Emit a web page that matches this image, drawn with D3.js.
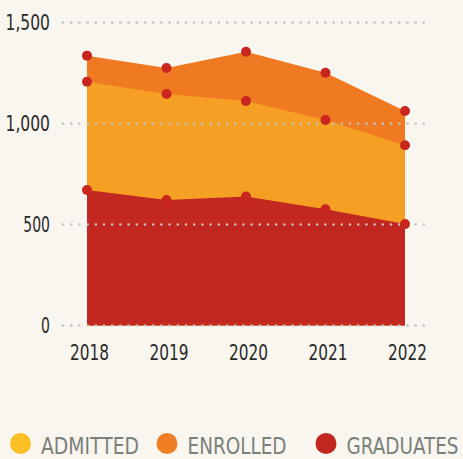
<!DOCTYPE html>
<html>
<head>
<meta charset="utf-8">
<script src="https://cdn.jsdelivr.net/npm/d3@7"></script>
<style>
  html, body { margin: 0; padding: 0; background: #F8F6EF; }
  svg { display: block; }
  text { font-family: "Liberation Sans Narrow", "DejaVu Sans Condensed", "Roboto", sans-serif; }
</style>
</head>
<body>
<svg id="chart" width="463" height="459"></svg>
<script>
// ---- data ----
const years = ["2018", "2019", "2020", "2021", "2022"];
const admitted = [1336, 1275, 1355, 1251, 1062];
const enrolled = [1207, 1146, 1111, 1017, 892];
const graduates = [671, 621, 638, 575, 502];
const yTicks = [0, 500, 1000, 1500];
const seriesNames = ["ADMITTED", "ENROLLED", "GRADUATES"];

// ---- styles ----
const areaColors = ["#EF7A21", "#F59F24", "#C2281F"];
const legendColors = ["#FBBF26", "#F07E24", "#C2281F"];
const dotColor = "#C8261F";
const FONT = "\"Liberation Sans Narrow\", \"DejaVu Sans Condensed\", sans-serif";

const svg = d3.select("#chart");
const x = d3.scalePoint().domain(years).range([87, 405]);
const y = d3.scaleLinear().domain([0, 1500]).range([325.5, 22.5]);

const series = [admitted, enrolled, graduates];

// areas
series.forEach((vals, i) => {
  const area = d3.area()
    .x((d, j) => x(years[j]))
    .y0(y(0))
    .y1(d => y(d));
  svg.append("path")
    .datum(vals)
    .attr("d", area)
    .attr("fill", areaColors[i]);
});

// grid (dotted)
const grid = svg.append("g");
grid.selectAll("line").data(yTicks).join("line")
  .attr("x1", 63).attr("x2", 430)
  .attr("y1", d => y(d)).attr("y2", d => y(d))
  .attr("stroke", "#C3C3C3")
  .attr("stroke-width", 2.6)
  .attr("stroke-linecap", "round")
  .attr("stroke-dasharray", "0 8.2");

// y axis
const fmt = d3.format(",");
const yAxis = svg.append("g")
  .attr("transform", "translate(50,0)")
  .call(d3.axisLeft(y).tickValues(yTicks).tickFormat(fmt).tickSize(0).tickPadding(0));
yAxis.select(".domain").remove();
yAxis.selectAll("text")
  .attr("font-family", FONT)
  .attr("font-size", 20.5)
  .attr("fill", "#2A2A2A")
  .attr("dy", "0.35em")
  .attr("textLength", d => fmt(d).length * 8.9)
  .attr("lengthAdjust", "spacingAndGlyphs");

// x axis
const xAxis = svg.append("g")
  .attr("transform", "translate(2,0)")
  .call(d3.axisBottom(x).tickSize(0).tickPadding(0));
xAxis.select(".domain").remove();
xAxis.selectAll("text")
  .attr("font-family", FONT)
  .attr("font-size", 20.5)
  .attr("fill", "#2A2A2A")
  .attr("y", 360)
  .attr("dy", 0)
  .attr("textLength", 39)
  .attr("lengthAdjust", "spacingAndGlyphs");

// dots
series.forEach(vals => {
  svg.append("g").selectAll("circle").data(vals).join("circle")
    .attr("cx", (d, j) => x(years[j]))
    .attr("cy", d => y(d))
    .attr("r", 5)
    .attr("fill", dotColor);
});

// legend
const legendX = [20.5, 167, 326];
const legendW = [98, 99, 112];
const lg = svg.append("g");
seriesNames.forEach((name, i) => {
  lg.append("circle")
    .attr("cx", legendX[i]).attr("cy", 443.5).attr("r", 10.5)
    .attr("fill", legendColors[i]);
  lg.append("text")
    .attr("x", legendX[i] + 20.5).attr("y", 453.5)
    .attr("font-size", 23)
    .attr("fill", "#7B807A")
    .attr("textLength", legendW[i])
    .attr("lengthAdjust", "spacingAndGlyphs")
    .text(name);
});
</script>
</body>
</html>
